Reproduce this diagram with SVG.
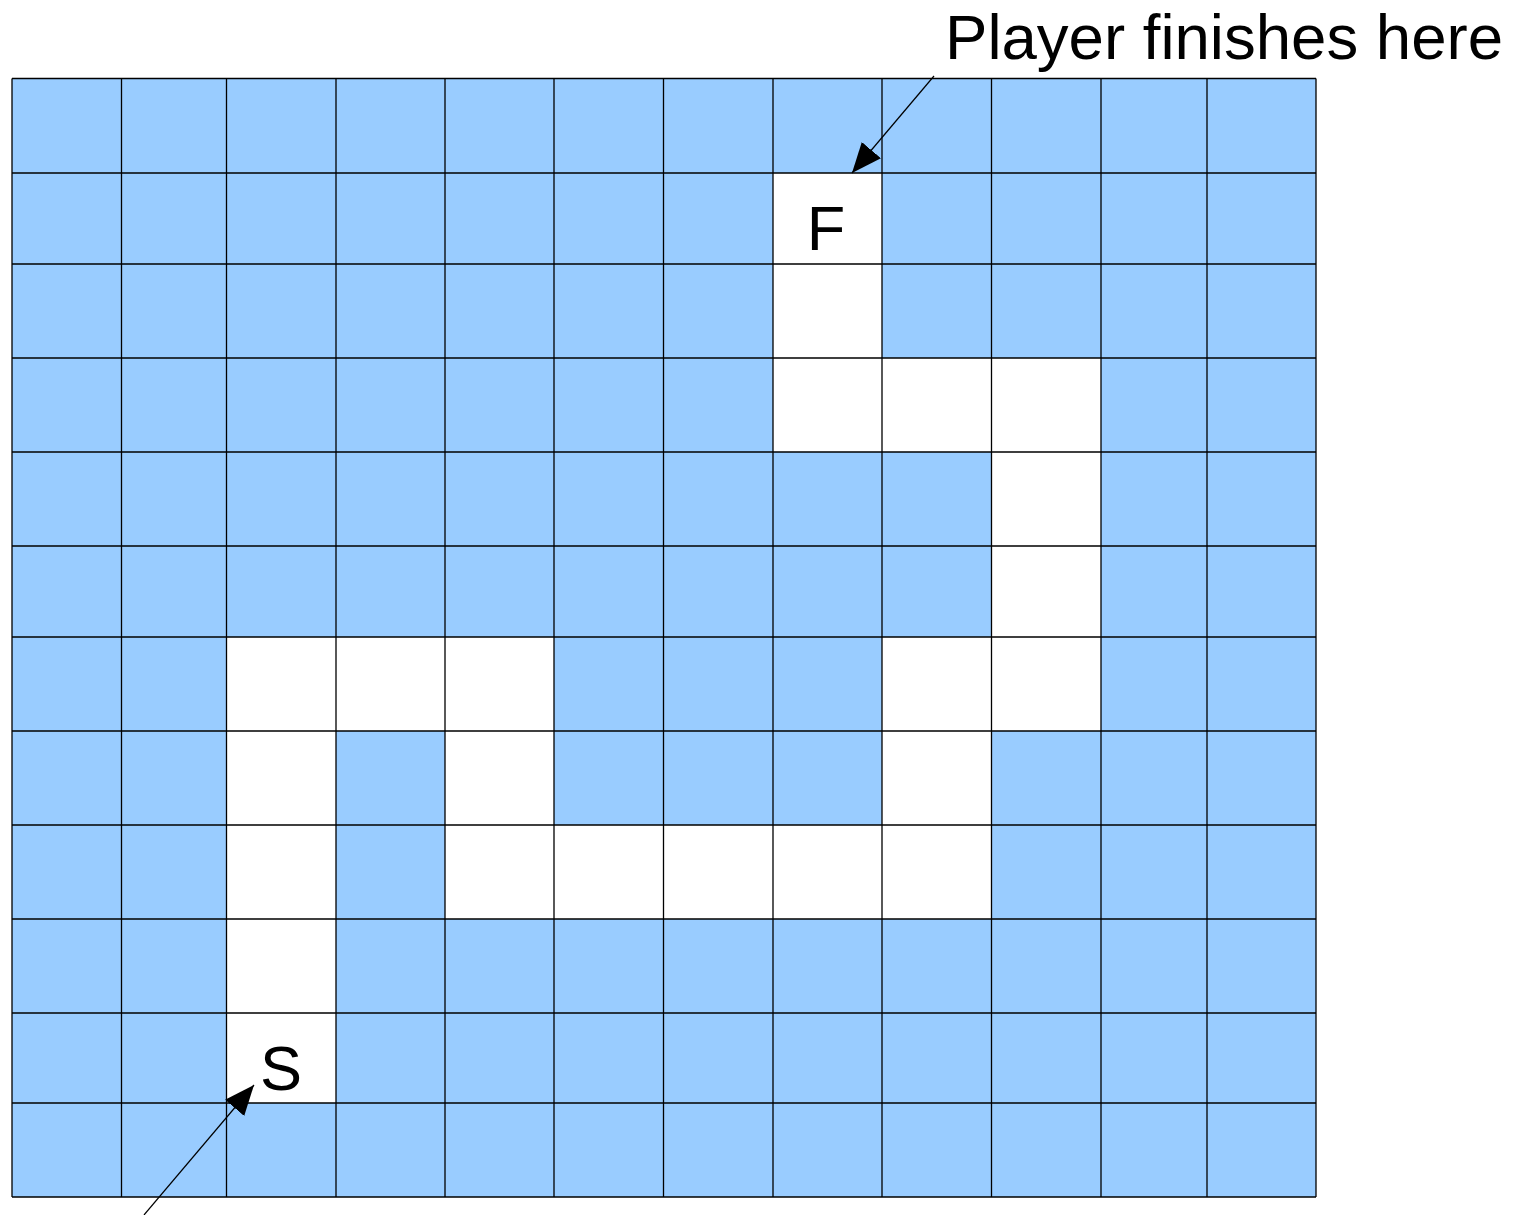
<svg xmlns="http://www.w3.org/2000/svg" width="1530" height="1215" viewBox="0 0 1530 1215">
<style>
.blue{fill:#99ccff}
.open{fill:#ffffff}
.grid{stroke:#000;stroke-width:1.3;fill:none}
.lbl{font-family:"Liberation Sans",Arial,sans-serif;font-size:63px;fill:#000}
.conn{stroke:#000;stroke-width:1.2;fill:none}
</style>
<defs>
<marker id="ah" markerUnits="userSpaceOnUse" markerWidth="31" markerHeight="26" refX="30" refY="12.5" orient="auto">
<path d="M0,0 L30,12.5 L0,25 z" fill="#000"/>
</marker>
</defs>
<rect width="1530" height="1215" fill="#fff"/>
<g id="maze">
<rect class="blue" x="12" y="78.5" width="1304" height="1118.5"/>
<g id="path-cells" class="open">
<rect x="773" y="173" width="109" height="91"/>
<rect x="773" y="264" width="109" height="94"/>
<rect x="773" y="358" width="218.5" height="94"/>
<rect x="991.5" y="358" width="109.5" height="94"/>
<rect x="991.5" y="452" width="109.5" height="94"/>
<rect x="991.5" y="546" width="109.5" height="91"/>
<rect x="882" y="637" width="219" height="94"/>
<rect x="226.5" y="637" width="327.5" height="94"/>
<rect x="226.5" y="731" width="109.5" height="94"/>
<rect x="445" y="731" width="109" height="94"/>
<rect x="882" y="731" width="109.5" height="94"/>
<rect x="226.5" y="825" width="109.5" height="94"/>
<rect x="445" y="825" width="546.5" height="94"/>
<rect x="226.5" y="919" width="109.5" height="94"/>
<rect x="226.5" y="1013" width="109.5" height="90"/>
</g>
<g id="grid-lines" class="grid">
<path d="M12,78.5V1197M121.5,78.5V1197M226.5,78.5V1197M336,78.5V1197M445,78.5V1197M554,78.5V1197M663.5,78.5V1197M773,78.5V1197M882,78.5V1197M991.5,78.5V1197M1101,78.5V1197M1207,78.5V1197M1316,78.5V1197"/>
<path d="M12,78.5H1316M12,173H1316M12,264H1316M12,358H1316M12,452H1316M12,546H1316M12,637H1316M12,731H1316M12,825H1316M12,919H1316M12,1013H1316M12,1103H1316M12,1197H1316"/>
</g>
</g>
<g id="finish-cell"><text class="lbl" x="826" y="250" text-anchor="middle">F</text></g>
<g id="start-cell"><text class="lbl" x="281" y="1090" text-anchor="middle">S</text></g>
<g id="finish-label"><text class="lbl" x="945" y="59" textLength="558" lengthAdjust="spacingAndGlyphs">Player finishes here</text></g>
<g id="connectors">
<line class="conn" x1="934" y1="76" x2="852" y2="173" marker-end="url(#ah)"/>
<line class="conn" x1="144" y1="1215" x2="254" y2="1085" marker-end="url(#ah)"/>
</g>
</svg>
